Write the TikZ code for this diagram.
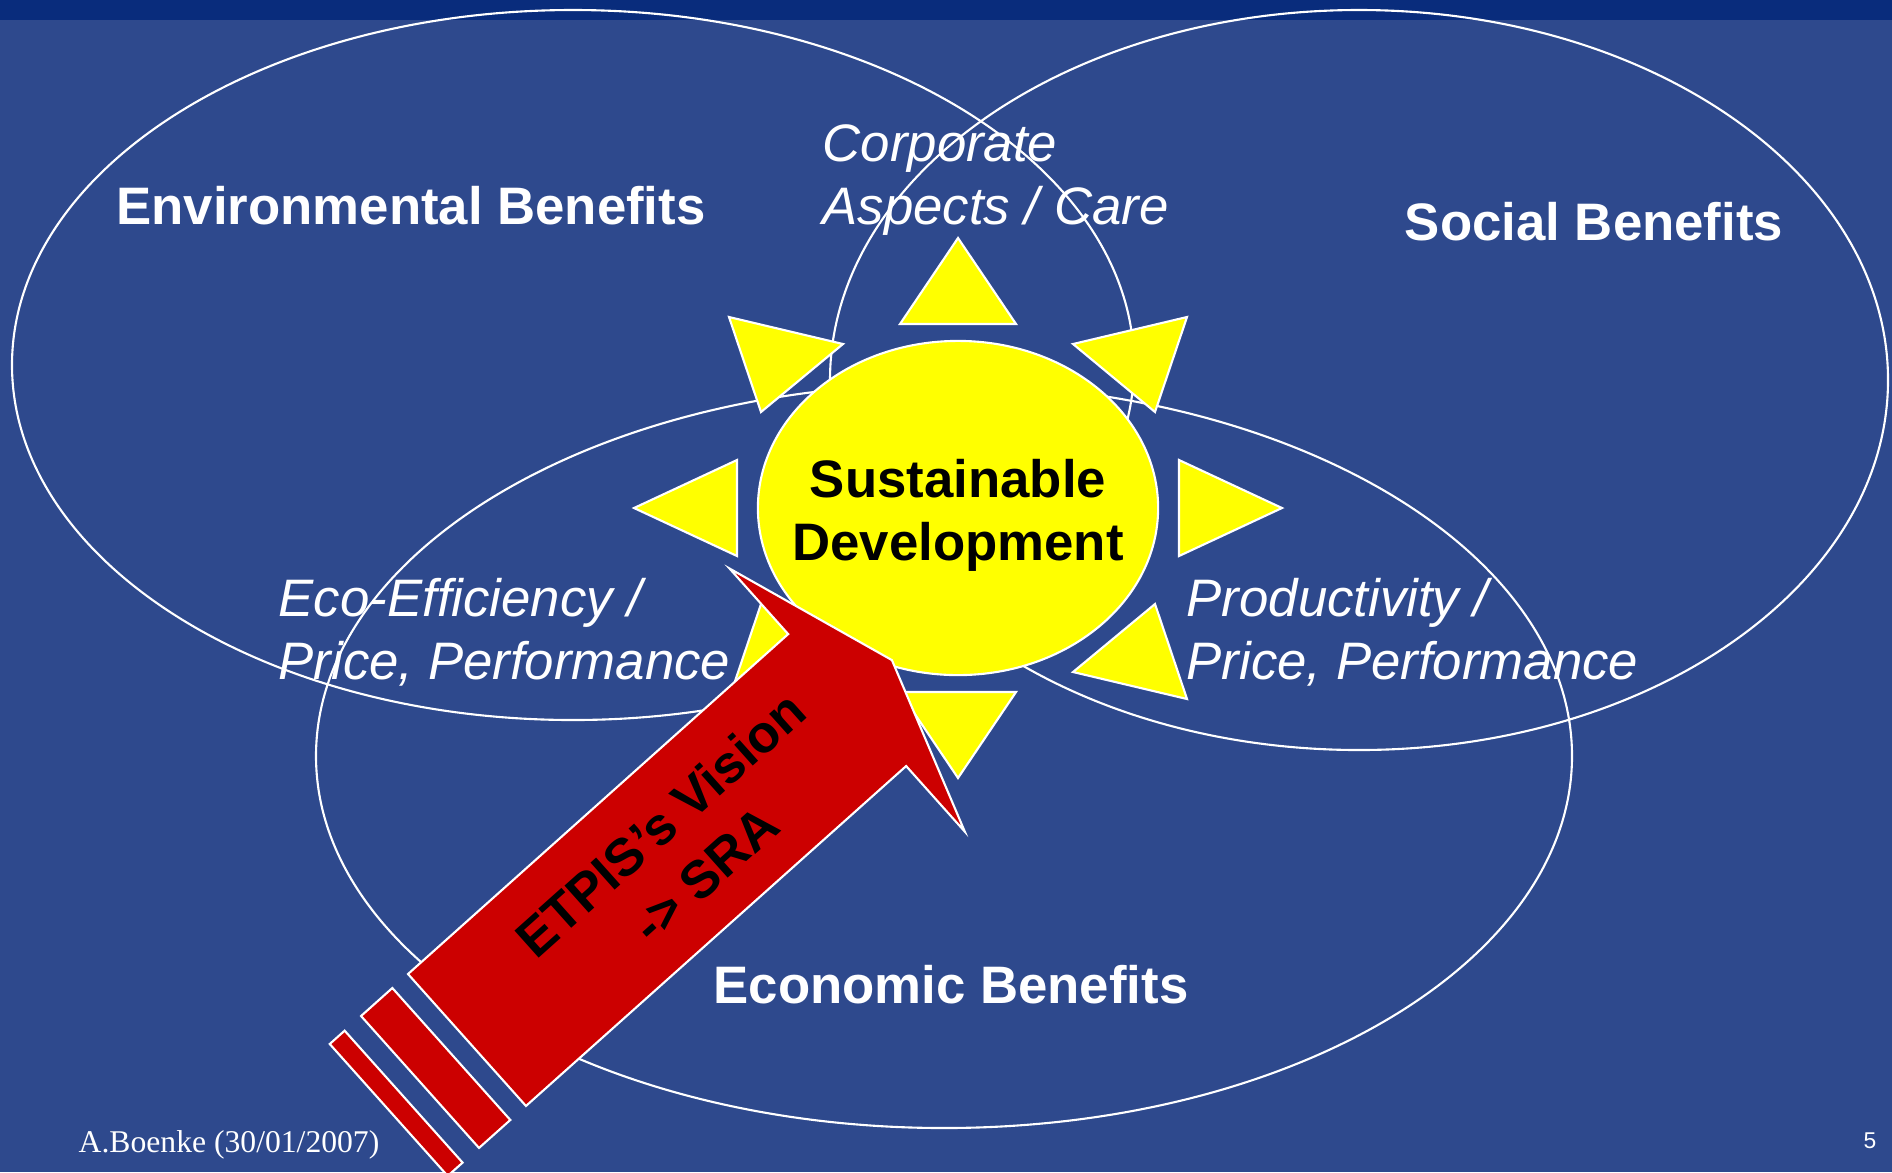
\documentclass[tikz,border=0pt]{standalone}
\usepackage{fontspec}
\setmainfont{Liberation Sans}
\newfontfamily\datefont{Liberation Serif}
\usetikzlibrary{shapes.geometric}

\definecolor{slideblue}{RGB}{46,73,141}
\definecolor{barblue}{RGB}{9,44,124}
\definecolor{sunyellow}{RGB}{255,255,0}
\definecolor{visionred}{RGB}{204,0,0}

\tikzset{
  ring/.style={draw=white, line width=0.6pt},
  ray/.style={fill=sunyellow, draw=white, line width=0.6pt},
  block/.style={fill=visionred, draw=white, line width=0.6pt},
  benefit/.style={text=white, inner sep=0pt, font=\bfseries\fontsize{15}{18}\selectfont},
  aspect/.style={text=white, inner sep=0pt, anchor=west, align=left, font=\itshape\fontsize{15}{18}\selectfont},
  core/.style={text=black, inner sep=0pt, align=center, font=\bfseries\fontsize{15}{18}\selectfont},
}

\begin{document}
\begin{tikzpicture}[x=0.01cm, y=-0.01cm]
        \useasboundingbox (0,0) rectangle (1892,1172);
        \fill[slideblue] (0,0) rectangle (1892,1172);
        \fill[barblue] (0,0) rectangle (1892,20);

            \draw[ring] (573,365) ellipse [x radius=561, y radius=355];
            \draw[ring] (1359,380) ellipse [x radius=529, y radius=370];
            \draw[ring] (944,756) ellipse [x radius=628, y radius=372];

            \draw[ray] (958,238) -- (1016,324) -- (900,324) -- cycle;
            \draw[ray] (958,778) -- (1016,692) -- (900,692) -- cycle;
            \draw[ray] (1282,508) -- (1179,460) -- (1179,556) -- cycle;
            \draw[ray] (634,508) -- (737,460) -- (737,556) -- cycle;
            \draw[ray] (1187,317) -- (1073,344) -- (1155,412) -- cycle;
            \draw[ray] (729,317) -- (843,344) -- (761,412) -- cycle;
            \draw[ray] (729,699) -- (843,672) -- (761,604) -- cycle;
            \draw[ray] (1187,699) -- (1073,672) -- (1155,604) -- cycle;

            \node (sun) [ellipse, fill=sunyellow, draw=white, line width=0.6pt,
                         minimum width=4cm, minimum height=3.34cm] at (958,508) {};
            \node (sd) [core] at (958,515) {Sustainable\\Development};

        \begin{scope}[shift={(408,974)}, rotate=41.8]
            \draw[block] (0,0) -- (510,0) -- (510,-88) -- (570,88.5) -- (510,265)
                         -- (510,177) -- (0,177) -- cycle;
            \draw[block] (-63,0) rectangle (-21,177);
            \draw[block] (-105,0) rectangle (-85,177);
            \node (vision) [core, rotate=41.8, font=\bfseries\fontsize{15}{19}\selectfont]
                  at (288,90) {ETPIS’s Vision\\-> SRA};
        \end{scope}

            \node (env) [benefit] at (411,206) {Environmental Benefits};
            \node (soc) [benefit] at (1594,222) {Social Benefits};
            \node (eco) [benefit] at (951,985) {Economic Benefits};

            \node (corp) [aspect] at (822,180) {Corporate\\Aspects / Care};
            \node (effic) [aspect] at (278,632) {Eco-Efficiency /\\Price, Performance};
            \node (prod) [aspect] at (1186,632) {Productivity /\\Price, Performance};

            \node (author) [anchor=west, inner sep=0pt, text=white,
                  font=\datefont\fontsize{9}{11}\selectfont] at (78,1145) {A.Boenke (30/01/2007)};
            \node (page) [inner sep=0pt, text=white, font=\fontsize{6.5}{8}\selectfont]
                  at (1870,1141) {5};
     \end{tikzpicture}
\end{document}
